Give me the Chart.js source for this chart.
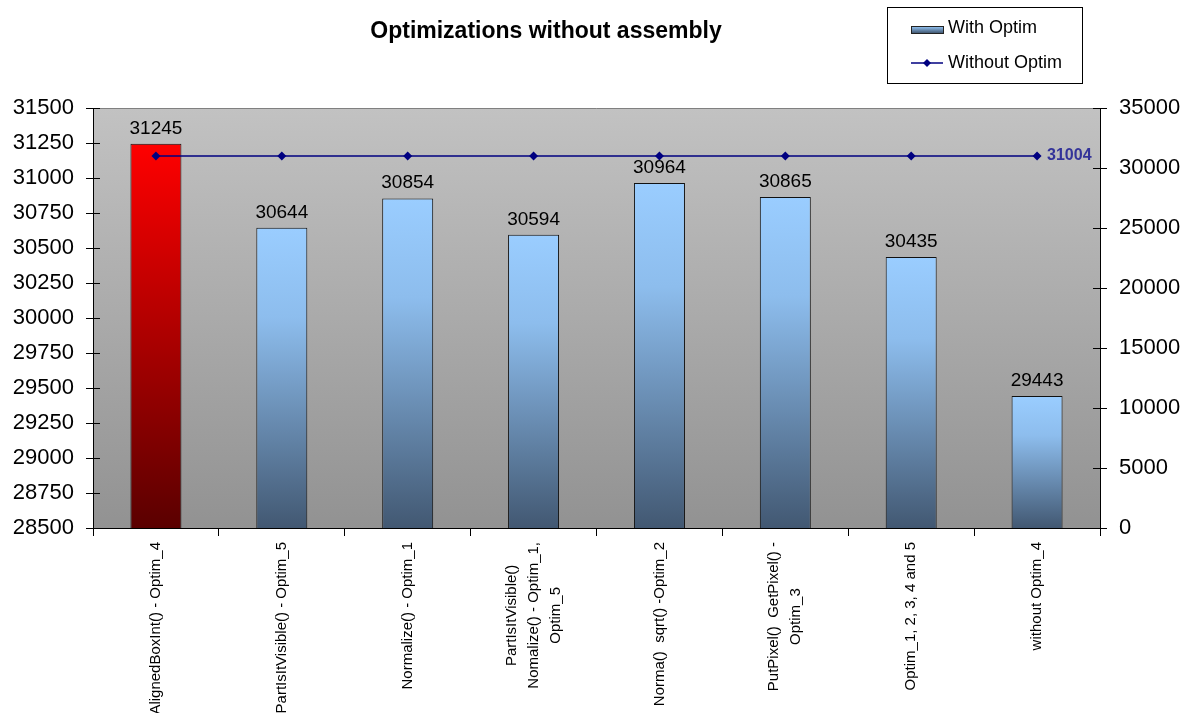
<!DOCTYPE html>
<html>
<head>
<meta charset="utf-8">
<script src="https://cdn.jsdelivr.net/npm/chart.js@4/dist/chart.umd.min.js"></script>
<style>
  html, body { margin: 0; padding: 0; background: #fff; }
  #wrap { width: 1189px; height: 713px; position: relative; }
</style>
</head>
<body>
<div id="wrap"><canvas id="chart"></canvas></div>
<script>
const FONT = '"Liberation Sans", Arial, sans-serif';

const categories = [
  "AlignedBoxInt() - Optim_4",
  "PartIsItVisible() - Optim_5",
  "Normalize() - Optim_1",
  ["PartIsItVisible()", "Nomalize() - Optim_1,", "Optim_5"],
  "Norma()  sqrt() -Optim_2",
  ["PutPixel()  GetPixel() -", "Optim_3"],
  "Optim_1, 2, 3, 4 and 5",
  "without Optim_4"
];
const withOptim = [31245, 30644, 30854, 30594, 30964, 30865, 30435, 29443];
const withoutOptim = [31004, 31004, 31004, 31004, 31004, 31004, 31004, 31004];
const leftMin = 28500, leftMax = 31500, leftStep = 250;
const rightMin = 0, rightMax = 35000, rightStep = 5000;
const highlightIndex = 0;

function barFill(ctx) {
  const chart = ctx.chart;
  const area = chart.chartArea;
  if (!area || ctx.type !== 'data') return '#99ccff';
  const top = chart.scales.y.getPixelForValue(ctx.raw);
  const g = chart.ctx.createLinearGradient(0, top, 0, area.bottom);
  if (ctx.dataIndex === highlightIndex) {
    g.addColorStop(0, '#ff0000');
    g.addColorStop(1, '#5a0000');
  } else {
    g.addColorStop(0, '#9acdff');
    g.addColorStop(0.3, '#8dbded');
    g.addColorStop(1, '#425872');
  }
  return g;
}

const decor = {
  id: 'decor',
  beforeDraw(chart) {
    const { ctx, chartArea: a } = chart;
    const g = ctx.createLinearGradient(0, a.top, 0, a.bottom);
    g.addColorStop(0, '#c2c2c2');
    g.addColorStop(1, '#929292');
    ctx.save();
    ctx.fillStyle = g;
    ctx.fillRect(a.left, a.top, a.width, a.height);
    ctx.strokeStyle = '#808080';
    ctx.lineWidth = 1;
    ctx.beginPath();
    ctx.moveTo(a.left, a.top + 0.5);
    ctx.lineTo(a.right, a.top + 0.5);
    ctx.stroke();
    ctx.restore();
  },
  afterDatasetsDraw(chart) {
    const { ctx } = chart;
    ctx.save();
    // bar values
    ctx.fillStyle = '#000';
    ctx.font = `19px ${FONT}`;
    ctx.textAlign = 'center';
    ctx.textBaseline = 'alphabetic';
    chart.getDatasetMeta(1).data.forEach((el, i) => {
      ctx.fillText(String(withOptim[i]), el.x, el.y - 10);
    });
    // line label on last point
    const pts = chart.getDatasetMeta(0).data;
    const last = pts[pts.length - 1];
    ctx.font = `bold 16px ${FONT}`;
    ctx.fillStyle = '#333399';
    ctx.textAlign = 'left';
    ctx.textBaseline = 'middle';
    ctx.fillText(String(withoutOptim[withoutOptim.length - 1]), last.x + 10, last.y);
    ctx.restore();
  },
  afterDraw(chart) {
    const { ctx, chartArea: a } = chart;
    ctx.save();

    // inner tick marks on both value axes
    ctx.strokeStyle = '#000';
    ctx.lineWidth = 1;
    chart.scales.y.ticks.forEach(t => {
      const p = Math.round(chart.scales.y.getPixelForValue(t.value)) + 0.5;
      ctx.beginPath(); ctx.moveTo(a.left, p); ctx.lineTo(a.left + 7, p); ctx.stroke();
    });
    chart.scales.y1.ticks.forEach(t => {
      const p = Math.round(chart.scales.y1.getPixelForValue(t.value)) + 0.5;
      ctx.beginPath(); ctx.moveTo(a.right - 7, p); ctx.lineTo(a.right, p); ctx.stroke();
    });

    // category labels, rotated, lines centred on each other
    const xs = chart.scales.x;
    ctx.fillStyle = '#000';
    ctx.font = `15px ${FONT}`;
    ctx.textAlign = 'center';
    ctx.textBaseline = 'middle';
    categories.forEach((lab, i) => {
      const lines = Array.isArray(lab) ? lab : [lab];
      const maxW = Math.max(...lines.map(l => ctx.measureText(l).width));
      const x = xs.getPixelForTick(i);
      const cy = a.bottom + 14 + maxW / 2;
      const lh = 22;
      ctx.save();
      ctx.translate(x, cy);
      ctx.rotate(-Math.PI / 2);
      lines.forEach((l, j) => ctx.fillText(l, 0, (j - (lines.length - 1) / 2) * lh));
      ctx.restore();
    });

    // title
    ctx.font = `bold 23px ${FONT}`;
    ctx.textAlign = 'center';
    ctx.fillText('Optimizations without assembly', 546, 32);

    // legend
    const lx = 887, ly = 7, lw = 195, lhgt = 76;
    ctx.fillStyle = '#fff';
    ctx.fillRect(lx, ly, lw, lhgt);
    ctx.strokeStyle = '#000';
    ctx.strokeRect(lx + 0.5, ly + 0.5, lw, lhgt);
    const sg = ctx.createLinearGradient(0, 26, 0, 33);
    sg.addColorStop(0, '#9acdff');
    sg.addColorStop(1, '#425872');
    ctx.fillStyle = sg;
    ctx.fillRect(911, 26, 32, 7);
    ctx.strokeStyle = '#222';
    ctx.strokeRect(911.5, 26.5, 32, 7);
    ctx.strokeStyle = '#000080';
    ctx.lineWidth = 1.5;
    ctx.beginPath(); ctx.moveTo(911, 63); ctx.lineTo(943, 63); ctx.stroke();
    ctx.fillStyle = '#000080';
    ctx.beginPath();
    ctx.moveTo(927, 59); ctx.lineTo(931, 63); ctx.lineTo(927, 67); ctx.lineTo(923, 63);
    ctx.closePath(); ctx.fill();
    ctx.fillStyle = '#000';
    ctx.font = `18px ${FONT}`;
    ctx.textAlign = 'left';
    ctx.fillText(chart.data.datasets[1].label, 948, 28);
    ctx.fillText(chart.data.datasets[0].label, 948, 63);
    ctx.restore();
  }
};

new Chart(document.getElementById('chart'), {
  data: {
    labels: categories,
    datasets: [
      {
        type: 'line',
        label: 'Without Optim',
        data: withoutOptim,
        yAxisID: 'y1',
        borderColor: '#000080',
        backgroundColor: '#000080',
        borderWidth: 1.5,
        pointStyle: 'rectRot',
        pointRadius: 4.5,
        pointBorderWidth: 0,
        order: 0
      },
      {
        type: 'bar',
        label: 'With Optim',
        data: withOptim,
        yAxisID: 'y',
        backgroundColor: barFill,
        borderColor: '#111',
        borderWidth: 1,
        barPercentage: 0.405,
        categoryPercentage: 1,
        order: 1
      }
    ]
  },
  options: {
    responsive: true,
    maintainAspectRatio: false,
    animation: false,
    layout: { padding: { top: 108, left: 0, right: 0, bottom: 0 } },
    plugins: { legend: { display: false }, tooltip: { enabled: false } },
    scales: {
      x: {
        grid: { drawOnChartArea: false, color: '#000', tickLength: 8, offset: true },
        border: { color: '#000' },
        ticks: { display: false },
        afterFit(s) { s.height = 185; }
      },
      y: {
        position: 'left',
        min: leftMin, max: leftMax,
        grid: { drawOnChartArea: false, color: '#000', tickLength: 7 },
        border: { color: '#000' },
        ticks: { stepSize: leftStep, color: '#000', padding: 12, font: { family: FONT, size: 22 }, callback: v => String(v) },
        afterFit(s) { s.width = 93; }
      },
      y1: {
        position: 'right',
        min: rightMin, max: rightMax,
        grid: { drawOnChartArea: false, color: '#000', tickLength: 7 },
        border: { color: '#000' },
        ticks: { stepSize: rightStep, color: '#000', padding: 12, font: { family: FONT, size: 22 }, callback: v => String(v) },
        afterFit(s) { s.width = 89; }
      }
    }
  },
  plugins: [decor]
});
</script>
</body>
</html>
